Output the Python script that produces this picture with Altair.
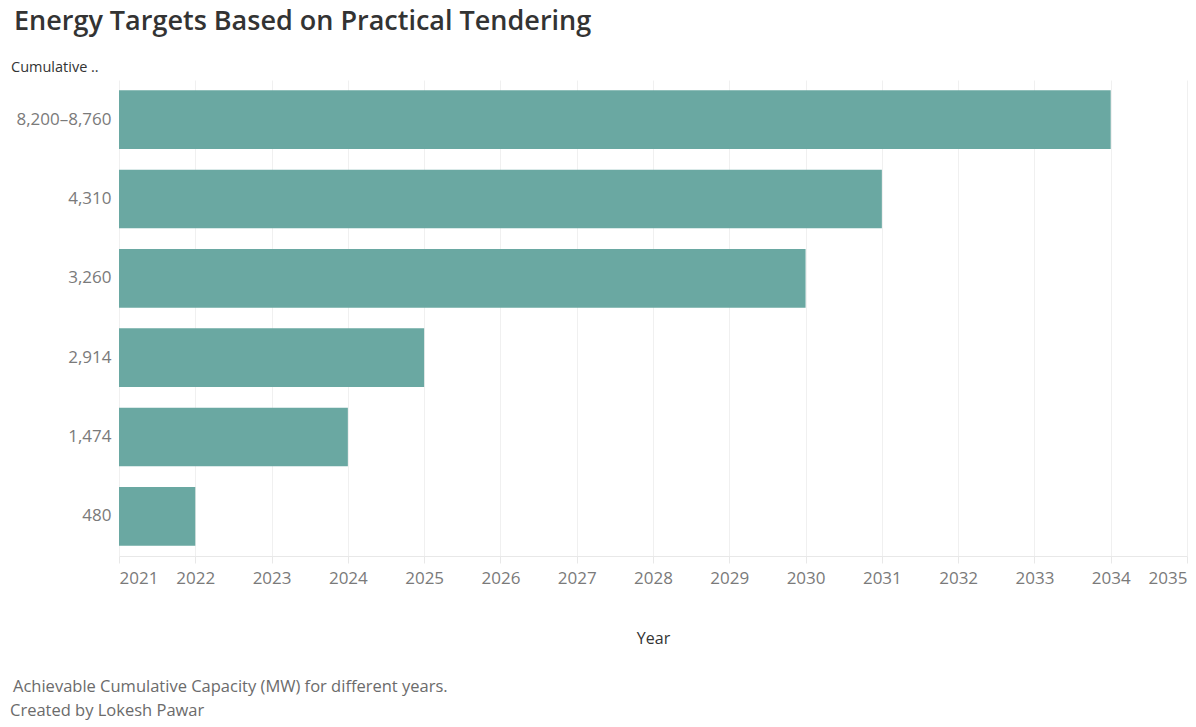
import altair as alt
import pandas as pd

categories = ["8,200–8,760", "4,310", "3,260", "2,914", "1,474", "480"]
target_years = [2034, 2031, 2030, 2025, 2024, 2022]
start_years = [2021, 2021, 2021, 2021, 2021, 2021]
tick_years = list(range(2021, 2036))

df = pd.DataFrame({"cap": categories, "end": target_years, "start": start_years})

FONT = "Open Sans"

bars = alt.Chart(df).mark_bar(color="#6aa8a2").encode(
    y=alt.Y("cap:N", sort=categories, title=None,
            scale=alt.Scale(paddingInner=0.26, paddingOuter=0.13),
            axis=alt.Axis(labelFont=FONT, labelFontSize=17, labelColor="#7a7a7a",
                          ticks=False, domain=False, grid=False, labelPadding=8)),
    x=alt.X("end:Q", title="Year",
            scale=alt.Scale(domain=[2021, 2035], zero=False, nice=False),
            axis=alt.Axis(values=tick_years, format="d", labelFont=FONT, labelFontSize=17,
                          labelColor="#7a7a7a", labelFlush=True, labelPadding=7,
                          tickColor="#e8e8e8", tickSize=7, domainColor="#e8e8e8",
                          gridColor="#f0f0f0", titleFont=FONT, titleFontSize=16,
                          titleFontWeight=500, titleColor="#333333", titlePadding=44)),
    x2="start:Q",
)

def label(txt, x, y, size, color, weight="normal"):
    return alt.Chart(pd.DataFrame({"t": [txt]})).mark_text(
        align="left", baseline="alphabetic", font=FONT, fontSize=size,
        color=color, fontWeight=weight,
    ).encode(text="t:N", x=alt.value(x), y=alt.value(y))

title = label("Energy Targets Based on Practical Tendering", -105, -50, 27, "#333333", 600)
header = label("Cumulative ..", -108, -8, 14.5, "#333333")
foot1 = label(" Achievable Cumulative Capacity (MW) for different years.", -106, 612, 16.5, "#6b6b6b")
foot2 = label("Created by Lokesh Pawar", -109, 636, 16.5, "#6b6b6b")

chart = alt.layer(bars, title, header, foot1, foot2).properties(
    width=1068, height=476,
    background="white",
    autosize=alt.AutoSizeParams(type="none"),
    padding={"left": 119, "top": 80, "right": 9, "bottom": 171},
).configure_view(stroke=None)

chart.save("out.html", embed_options={"renderer": "svg", "actions": False})
